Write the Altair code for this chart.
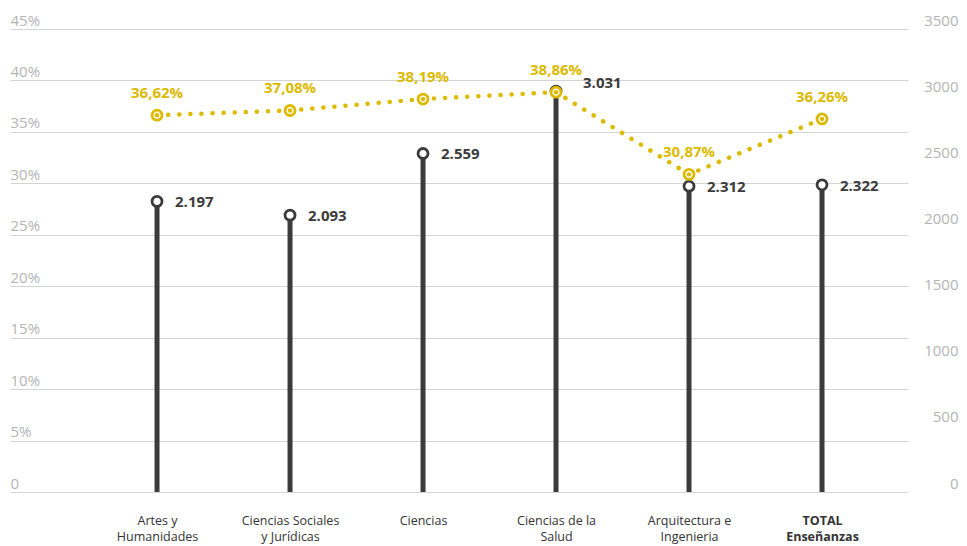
import altair as alt
import pandas as pd

categories = [
    "Artes y\nHumanidades",
    "Ciencias Sociales\ny Jurídicas",
    "Ciencias",
    "Ciencias de la\nSalud",
    "Arquitectura e\nIngenieria",
    "TOTAL\nEnseñanzas",
]
pct_values = [36.62, 37.08, 38.19, 38.86, 30.87, 36.26]
students = [2197, 2093, 2559, 3031, 2312, 2322]

pct_labels = [f"{v:.2f}".replace(".", ",") + "%" for v in pct_values]
student_labels = [f"{v:,}".replace(",", ".") for v in students]

df = pd.DataFrame({
    "cat": categories,
    "pct": pct_values,
    "pct_label": pct_labels,
    "n": students,
    "n_label": student_labels,
})

YELLOW = "#DBBA00"
DARK = "#3b3b3b"
AXIS_GREY = "#b4b4b4"
FONT = "Open Sans"

x = alt.X(
    "cat:N", sort=categories, title=None,
    scale=alt.Scale(type="point", padding=0.876, align=0.631),
    axis=alt.Axis(
        domain=False, ticks=False, tickSize=0, grid=False, labelAngle=0,
        labelPadding=22, labelBaseline="top", labelFont=FONT, labelFontSize=12.5,
        labelColor="#333333", labelLineHeight=16,
        labelExpr="split(datum.label, '\\n')",
        labelFontWeight=alt.condition("indexof(datum.value, 'TOTAL') >= 0",
                                      alt.value("bold"), alt.value("normal")),
    ),
)

y_pct = alt.Y(
    "pct:Q", title=None,
    scale=alt.Scale(domain=[0, 45], nice=False, zero=True),
    axis=alt.Axis(
        orient="left", values=list(range(0, 50, 5)),
        labelExpr="datum.value == 0 ? '0' : datum.value + '%'",
        domain=False, ticks=False, tickSize=0, labelAlign="left", labelPadding=0,
        labelBaseline="bottom", labelOffset=-1, labelColor=AXIS_GREY,
        labelFontSize=15, labelFont=FONT,
        grid=True, gridColor="#d4d4d4", gridWidth=1,
    ),
)

y_n = alt.Y(
    "n:Q", title=None,
    scale=alt.Scale(domain=[0, 3500], nice=False),
    axis=alt.Axis(
        orient="right", values=list(range(0, 3501, 500)), format="d",
        domain=False, ticks=False, tickSize=0, grid=False,
        labelAlign="right", labelPadding=50, labelBaseline="bottom", labelOffset=-1,
        labelColor=AXIS_GREY, labelFontSize=15, labelFont=FONT,
    ),
)

base = alt.Chart(df)

stems = base.mark_rule(color=DARK, strokeWidth=5).encode(x=x, y=y_n, y2=alt.datum(0))
heads = base.mark_circle(fill="white", stroke=DARK, strokeWidth=2.8, size=100, opacity=1).encode(x=x, y=y_n)
n_text = base.mark_text(align="left", baseline="middle", dx=18, dy=1, font=FONT,
                        fontSize=15, fontWeight="bold", color=DARK).encode(
    x=x, y=y_n, text="n_label:N").transform_filter("datum.n < 3000")
n_text_top = base.mark_text(align="left", baseline="middle", dx=27, dy=-8, font=FONT,
                            fontSize=15, fontWeight="bold", color=DARK).encode(
    x=x, y=y_n, text="n_label:N").transform_filter("datum.n >= 3000")
lollipops = alt.layer(stems, heads, n_text, n_text_top)

line = base.mark_line(color=YELLOW, strokeWidth=4.5, strokeDash=[0.1, 11],
                      strokeCap="round").encode(x=x, y=y_pct)
rings = base.mark_circle(fill="white", stroke=YELLOW, strokeWidth=2.8, size=100,
                         opacity=1).encode(x=x, y=y_pct)
dots = base.mark_circle(color=YELLOW, size=20, opacity=1).encode(x=x, y=y_pct)
pct_text = base.mark_text(align="center", baseline="middle", dy=-22, font=FONT,
                          fontSize=15, fontWeight="bold", color=YELLOW).encode(
    x=x, y=y_pct, text="pct_label:N")
pct_layer = alt.layer(line, rings, dots, pct_text)

chart = alt.layer(lollipops, pct_layer).resolve_scale(
    y="independent"
).properties(
    width=898, height=463,
    autosize=alt.AutoSizeParams(type="none"),
    padding={"left": 2, "right": 51, "top": 21, "bottom": 54},
).configure_view(stroke=None)

chart.save("out.html", embed_options={"renderer": "svg", "actions": False})
